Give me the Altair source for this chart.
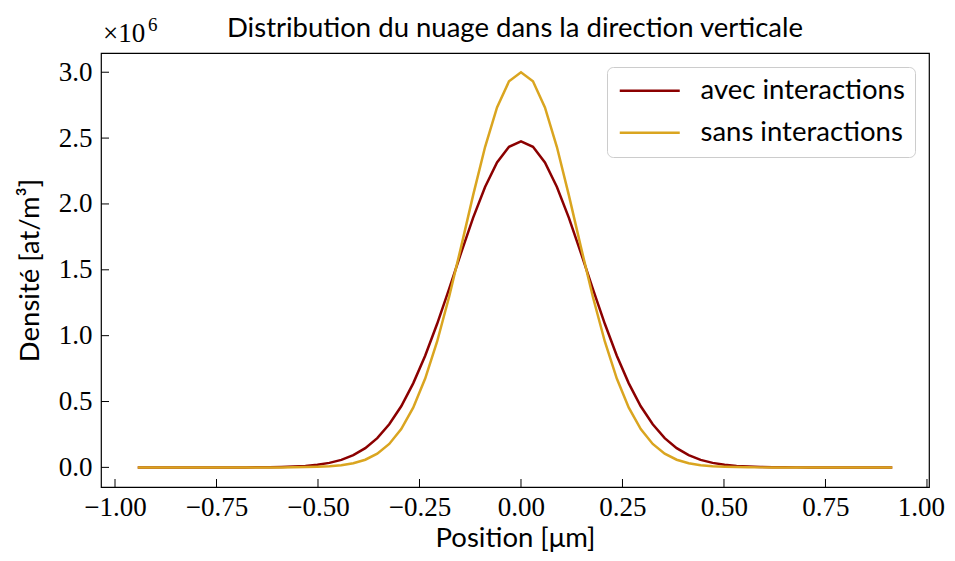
import altair as alt
import pandas as pd

# Grid positions (µm)
positions = [
    -0.944, -0.9145, -0.885, -0.8555, -0.826, -0.7965, -0.767, -0.7375,
    -0.708, -0.6785, -0.649, -0.6195, -0.59, -0.5605, -0.531, -0.5015,
    -0.472, -0.4425, -0.413, -0.3835, -0.354, -0.3245, -0.295, -0.2655,
    -0.236, -0.2065, -0.177, -0.1475, -0.118, -0.0885, -0.059, -0.0295,
    0.0, 0.0295, 0.059, 0.0885, 0.118, 0.1475, 0.177, 0.2065,
    0.236, 0.2655, 0.295, 0.3245, 0.354, 0.3835, 0.413, 0.4425,
    0.472, 0.5015, 0.531, 0.5605, 0.59, 0.6195, 0.649, 0.6785,
    0.708, 0.7375, 0.767, 0.7965, 0.826, 0.8555, 0.885, 0.9145,
]

# Density (x 1e6 at/m^3)
avec_interactions = [
    0.0, 0.0, 0.0, 0.0, 0.0, 0.0, 0.0, 0.0, 0.0, 0.0,
    0.001, 0.0015, 0.003, 0.006, 0.011, 0.020, 0.034, 0.057, 0.093, 0.146,
    0.222, 0.327, 0.464, 0.638, 0.848, 1.090, 1.355, 1.629, 1.894, 2.129,
    2.315, 2.434, 2.475, 2.434, 2.315, 2.129, 1.894, 1.629, 1.355, 1.090,
    0.848, 0.638, 0.464, 0.327, 0.222, 0.146, 0.093, 0.057, 0.034, 0.020,
    0.011, 0.006, 0.003, 0.0015, 0.001, 0.0, 0.0, 0.0, 0.0, 0.0,
    0.0, 0.0, 0.0, 0.0,
]
sans_interactions = [
    0.0, 0.0, 0.0, 0.0, 0.0, 0.0, 0.0, 0.0, 0.0, 0.0,
    0.0, 0.0, 0.0, 0.001, 0.002, 0.004, 0.008, 0.016, 0.031, 0.058,
    0.104, 0.178, 0.291, 0.453, 0.674, 0.956, 1.295, 1.674, 2.065, 2.432,
    2.733, 2.931, 3.000, 2.931, 2.733, 2.432, 2.065, 1.674, 1.295, 0.956,
    0.674, 0.453, 0.291, 0.178, 0.104, 0.058, 0.031, 0.016, 0.008, 0.004,
    0.002, 0.001, 0.0, 0.0, 0.0, 0.0, 0.0, 0.0, 0.0, 0.0,
    0.0, 0.0, 0.0, 0.0,
]

series_names = ["avec interactions", "sans interactions"]
series_colors = ["#8b0000", "#daa520"]
x_ticks = [-1.0, -0.75, -0.5, -0.25, 0.0, 0.25, 0.5, 0.75, 1.0]
y_ticks = [0.0, 0.5, 1.0, 1.5, 2.0, 2.5, 3.0]
exponent_base = ["×10"]
exponent_power = ["6"]
title_text = ["Distribution du nuage dans la direction verticale"]

df = pd.DataFrame({
    "x": positions + positions,
    "y": avec_interactions + sans_interactions,
    "serie": [series_names[0]] * len(positions) + [series_names[1]] * len(positions),
})

W, H = 828, 434
SERIF = "Liberation Serif"
SANS = "Lato"
SANS_SIZE = 27.5

xscale = alt.Scale(domain=[-1.0345, 1.005], nice=False, zero=False)
yscale = alt.Scale(domain=[-0.149, 3.146], nice=False, zero=False)

x_axis = alt.Axis(
    values=x_ticks, format=".2f", title="Position [μm]", ticks=False,
    domain=False, grid=False, labelFont=SERIF, labelFontSize=27,
    labelPadding=7, labelColor="black",
    labelOffset=alt.ConditionalAxisNumber(condition={"test": "datum.value >= 1", "value": -6}, value=0),
    titleFont=SANS, titleFontSize=SANS_SIZE,
    titleFontWeight="normal", titleColor="black", titlePadding=4)
y_axis = alt.Axis(
    values=y_ticks, format=".1f", title="Densité [at/m³]", ticks=False,
    domain=False, grid=False, labelFont=SERIF, labelFontSize=27,
    labelPadding=9, labelColor="black", titleFont=SANS, titleFontSize=SANS_SIZE,
    titleFontWeight="normal", titleColor="black", titlePadding=14)

lines = alt.Chart(df).mark_line(strokeWidth=2.5).encode(
    x=alt.X("x:Q", scale=xscale, axis=x_axis),
    y=alt.Y("y:Q", scale=yscale, axis=y_axis),
    color=alt.Color("serie:N", scale=alt.Scale(domain=series_names, range=series_colors),
                    legend=alt.Legend(title=None, orient="none", legendX=506, legendY=14,
                                      fillColor="white", strokeColor="#cccccc",
                                      cornerRadius=6, padding=10,
                                      symbolType="M-3,0H3", symbolSize=400,
                                      symbolOffset=19,
                                      symbolStrokeWidth=2.5, labelFont=SANS,
                                      labelFontSize=SANS_SIZE, labelOffset=37, labelLimit=400,
                                      labelColor="black", rowPadding=13)),
)

xt = alt.Chart(pd.DataFrame({"x": x_ticks})).mark_rule(color="black", strokeWidth=1).encode(
    x=alt.X("x:Q", scale=xscale, axis=x_axis), y=alt.value(H), y2=alt.value(H - 8))
yt = alt.Chart(pd.DataFrame({"y": y_ticks})).mark_rule(color="black", strokeWidth=1).encode(
    y=alt.Y("y:Q", scale=yscale, axis=y_axis), x=alt.value(0), x2=alt.value(8))

expo = alt.Chart(pd.DataFrame({"t": exponent_base})).mark_text(
    align="left", baseline="alphabetic", font=SERIF, fontSize=27, color="black").encode(
    x=alt.value(2), y=alt.value(-11), text="t:N")
expo_pow = alt.Chart(pd.DataFrame({"t": exponent_power})).mark_text(
    align="left", baseline="alphabetic", font=SERIF, fontSize=19, color="black").encode(
    x=alt.value(47), y=alt.value(-22), text="t:N")

title = alt.Chart(pd.DataFrame({"t": title_text})).mark_text(
    align="center", baseline="alphabetic", font=SANS, fontSize=SANS_SIZE, color="black").encode(
    x=alt.value(W / 2), y=alt.value(-16), text="t:N")

chart = alt.layer(lines, xt, yt, expo, expo_pow, title).properties(
    width=W, height=H, background="white",
    autosize=alt.AutoSizeParams(type="none"),
    padding={"left": 93, "top": 45, "right": 18, "bottom": 66},
).configure_view(stroke="black", strokeWidth=1.2)

chart.save("out.html", embed_options={"renderer": "svg", "actions": False})
